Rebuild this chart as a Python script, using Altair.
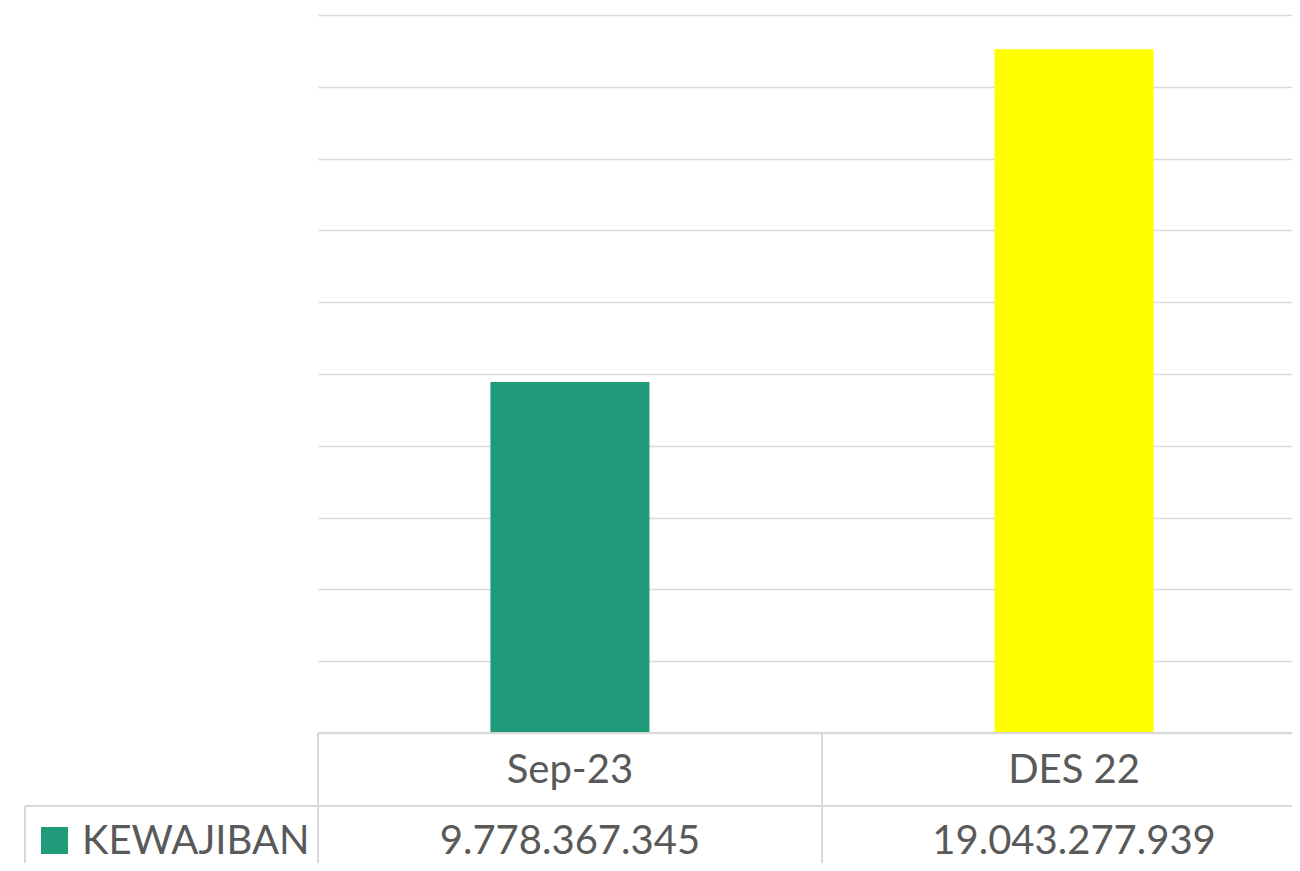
import altair as alt
import pandas as pd

categories = ["Sep-23", "DES 22"]
values = [9778367345, 19043277939]
value_labels = ["9.778.367.345", "19.043.277.939"]
bar_colors = ["#1F9B7A", "#FFFF00"]
series_name = ["KEWAJIBAN"]
y_ticks = [0, 2e9, 4e9, 6e9, 8e9, 10e9, 12e9, 14e9, 16e9, 18e9, 20e9]

df = pd.DataFrame({"cat": categories, "val": values, "label": value_labels})
one = pd.DataFrame({"s": series_name})

FONT = "Lato"
TXT = "#595959"
LINE = "#d9d9d9"
FS = 40

xenc = alt.X(
    "cat:N",
    sort=categories,
    scale=alt.Scale(range=[0, 1008], paddingInner=0.6845, paddingOuter=0.342),
    axis=None,
)

bars = alt.Chart(df).mark_bar().encode(
    x=xenc,
    y=alt.Y(
        "val:Q",
        scale=alt.Scale(domain=[0, 20e9], nice=False),
        axis=alt.Axis(
            values=y_ticks, grid=True, labels=False, ticks=False, domain=False,
            title=None, gridColor=LINE, gridWidth=1.5,
        ),
    ),
    color=alt.Color("cat:N", scale=alt.Scale(domain=categories, range=bar_colors), legend=None),
)

cat_text = alt.Chart(df).mark_text(
    font=FONT, fontSize=FS, color=TXT, baseline="alphabetic", align="center"
).encode(x=xenc, y=alt.value(768), text="cat:N")

val_text = alt.Chart(df).mark_text(
    font=FONT, fontSize=FS, color=TXT, baseline="alphabetic", align="center"
).encode(x=xenc, y=alt.value(839), text="label:N")

leg_box = alt.Chart(one).mark_rect(color=bar_colors[0]).encode(
    x=alt.value(-277), x2=alt.value(-250), y=alt.value(812), y2=alt.value(839)
)
leg_text = alt.Chart(one).mark_text(
    font=FONT, fontSize=FS, color=TXT, baseline="alphabetic", align="left"
).encode(x=alt.value(-236), y=alt.value(839), text="s:N")


def rule(x1, x2, y1, y2):
    return alt.Chart(one).mark_rule(color=LINE, strokeWidth=2).encode(
        x=alt.value(x1), x2=alt.value(x2), y=alt.value(y1), y2=alt.value(y2)
    )


rules = [
    rule(0, 1008, 718, 718),
    rule(-293, 1008, 791, 791),
    rule(0, 0, 718, 900),
    rule(504, 504, 718, 900),
    rule(-293, -293, 791, 900),
]

chart = alt.layer(bars, *rules, cat_text, val_text, leg_box, leg_text).properties(
    width=974,
    height=718,
    autosize="none",
    padding={"left": 310, "top": 7, "right": 0, "bottom": 130},
    background="white",
).configure_view(stroke=None)

chart.save("out.html", embed_options={"renderer": "svg", "actions": False})
